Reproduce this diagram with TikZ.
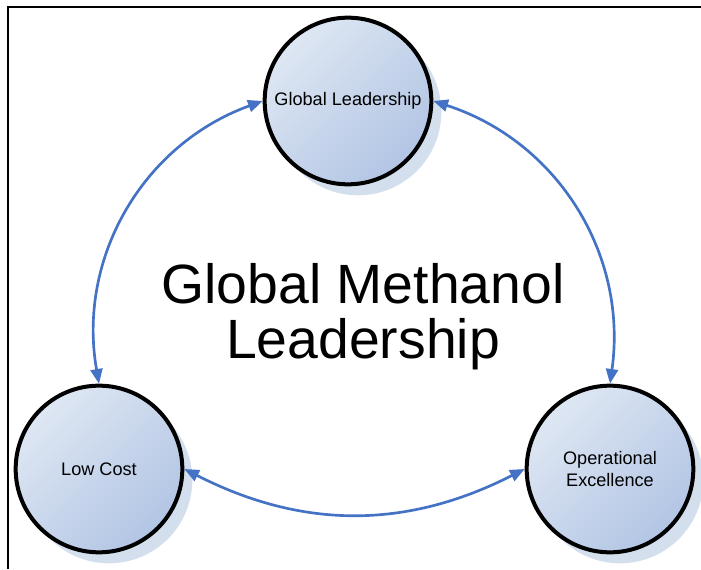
\documentclass[tikz,border=0pt]{standalone}
\usepackage{fontspec}
\setmainfont{Liberation Sans}
\usetikzlibrary{arrows.meta,shadows}

\definecolor{arrowblue}{HTML}{4472C4}
\definecolor{discLight}{RGB}{222,231,243}
\definecolor{discDark}{RGB}{178,197,228}
\definecolor{shadowblue}{RGB}{212,223,238}

\begin{document}
\begin{tikzpicture}[x=0.75pt, y=0.75pt,
    goal/.style={circle, draw=black, line width=3pt, minimum size=125pt, inner sep=0pt, align=center,
        top color=discLight, bottom color=discDark, shading angle=45,
        drop shadow={shadow xshift=7.5pt, shadow yshift=-8.25pt, fill=shadowblue, opacity=1},
        font=\fontsize{13.6}{16.5}\selectfont},
    link/.style={{Triangle[length=11pt,width=9pt]}-{Triangle[length=11pt,width=9pt]}, draw=arrowblue, line width=2pt},]

        \useasboundingbox (0,0) rectangle (701,569);

        % Define the centres of the three discs and of the title
        \coordinate (cGL) at (348,468);
        \coordinate (cLC) at (99,100);
        \coordinate (cOE) at (610,100);
        \coordinate (cT) at (363,252);

        % Frame along the left and top edges
        \draw[line width=2pt] (8,0) -- (8,562) -- (701,562);

        % Draw the discs
        \node[goal] (GL) at (cGL) {Global Leadership};
        \node[goal] (LC) at (cLC) {Low Cost};
        \node[goal] (OE) at (cOE) {Operational\\Excellence};

        % Title in the middle
        \node[font=\fontsize{41.5}{41.25}\selectfont, align=center, inner sep=0pt] (T) at (cT) {Global Methanol\\Leadership};

        % Curved double arrows between the discs
        \draw[link] (GL.west) to[bend right=40] (LC.north);
        \draw[link] (GL.east) to[bend left=40] (OE.north);
        \draw[link] (LC.east) to[bend right=27] (OE.west);

    \end{tikzpicture}
\end{document}
